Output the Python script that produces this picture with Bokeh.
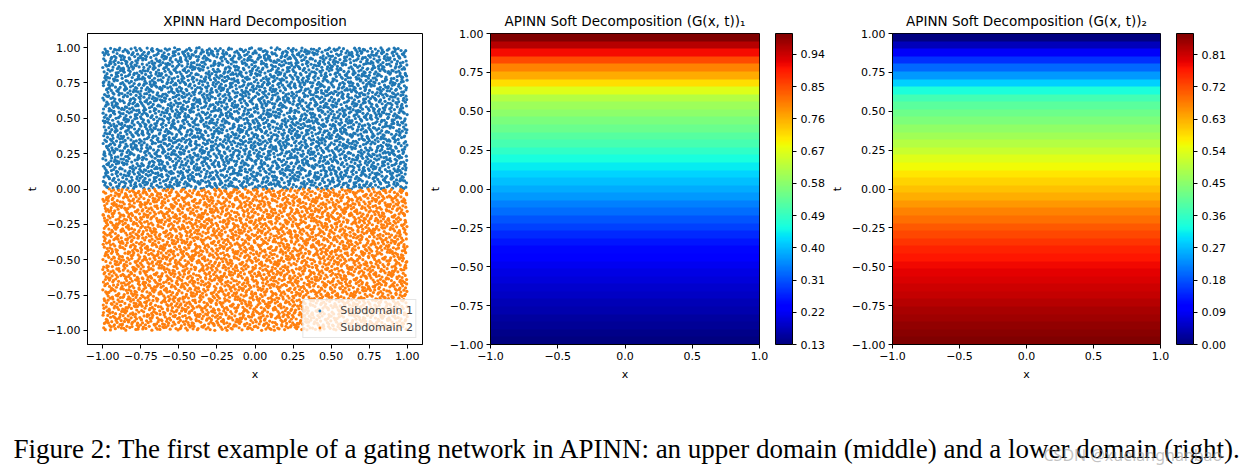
import numpy as np
from bokeh.plotting import figure
from bokeh.models import (LinearColorMapper, ColorBar, FixedTicker, PrintfTickFormatter,
                          Label, Legend, LegendItem, Range1d)
from bokeh.layouts import row, column
from bokeh.embed import file_html
from bokeh.resources import INLINE

# ------------------------------------------------------------------ data
x_domain = [-1.0, 1.0]
t_sub1 = [0.0, 1.0]     # Subdomain 1 (upper)
t_sub2 = [-1.0, 0.0]    # Subdomain 2 (lower)
n_sub1 = 4000
n_sub2 = 4000

t_levels = [-1.00, -0.95, -0.90, -0.85, -0.80, -0.75, -0.70, -0.65, -0.60, -0.55,
            -0.50, -0.45, -0.40, -0.35, -0.30, -0.25, -0.20, -0.15, -0.10, -0.05,
            0.00, 0.05, 0.10, 0.15, 0.20, 0.25, 0.30, 0.35, 0.40, 0.45,
            0.50, 0.55, 0.60, 0.65, 0.70, 0.75, 0.80, 0.85, 0.90, 0.95, 1.00]
g1_values = [0.130, 0.139, 0.147, 0.155, 0.164, 0.174, 0.183, 0.191, 0.199, 0.207,
             0.217, 0.229, 0.243, 0.258, 0.275, 0.293, 0.312, 0.331, 0.350, 0.369,
             0.387, 0.403, 0.421, 0.441, 0.462, 0.485, 0.507, 0.526, 0.544, 0.563,
             0.582, 0.600, 0.625, 0.666, 0.714, 0.762, 0.801, 0.850, 0.908, 0.955, 0.998]
g2_values = [0.869, 0.862, 0.853, 0.845, 0.836, 0.826, 0.817, 0.809, 0.800, 0.792,
             0.782, 0.770, 0.757, 0.742, 0.725, 0.707, 0.688, 0.669, 0.650, 0.631,
             0.613, 0.597, 0.579, 0.559, 0.538, 0.515, 0.493, 0.474, 0.456, 0.437,
             0.418, 0.400, 0.375, 0.334, 0.286, 0.238, 0.199, 0.150, 0.092, 0.045, 0.000]

scatter_ticks = [-1.0, -0.75, -0.5, -0.25, 0.0, 0.25, 0.5, 0.75, 1.0]
scatter_tick_labels = ["\u22121.00", "\u22120.75", "\u22120.50", "\u22120.25", "0.00",
                       "0.25", "0.50", "0.75", "1.00"]
heat_x_ticks = [-1.0, -0.5, 0.0, 0.5, 1.0]
heat_x_labels = ["\u22121.0", "\u22120.5", "0.0", "0.5", "1.0"]
cb1_ticks = [0.13, 0.22, 0.31, 0.40, 0.49, 0.58, 0.67, 0.76, 0.85, 0.94]
cb2_ticks = [0.00, 0.09, 0.18, 0.27, 0.36, 0.45, 0.54, 0.63, 0.72, 0.81]

titles = ["XPINN Hard Decomposition",
          "APINN Soft Decomposition (G(x, t))\u2081",
          "APINN Soft Decomposition (G(x, t))\u2082"]
legend_labels = ["Subdomain 1", "Subdomain 2"]
caption = ("Figure 2: The first example of a gating network in APINN: "
           "an upper domain (middle) and a lower domain (right).")
watermark = "CSDN @xuelanghanbao"

# ------------------------------------------------------------------ helpers
def jet_palette(n=256):
    pos = np.linspace(0, 1, n)
    r = np.interp(pos, [0, 0.35, 0.66, 0.89, 1], [0, 0, 1, 1, 0.5])
    g = np.interp(pos, [0, 0.125, 0.375, 0.64, 0.91, 1], [0, 0, 1, 1, 0, 0])
    b = np.interp(pos, [0, 0.11, 0.34, 0.65, 1], [0.5, 1, 1, 0, 0])
    return ["#%02x%02x%02x" % (int(round(a * 255)), int(round(c * 255)), int(round(d * 255)))
            for a, c, d in zip(r, g, b)]

JET = jet_palette()


def halton(n, base, start):
    out = np.empty(n)
    for i in range(n):
        f, r, k = 1.0, 0.0, i + start
        while k > 0:
            f /= base
            r += f * (k % base)
            k //= base
        out[i] = r
    return out


FONT = "DejaVu Sans"


def style(p, xt, xl, yt, yl):
    p.outline_line_color = "black"
    p.outline_line_width = 1
    p.xgrid.visible = False
    p.ygrid.visible = False
    p.title.text_font = FONT
    p.title.text_font_size = "13.5px"
    p.title.text_font_style = "normal"
    p.title.align = "center"
    p.title.text_color = "black"
    for ax, ticks, labels, name in ((p.xaxis[0], xt, xl, "x"), (p.yaxis[0], yt, yl, "t")):
        ax.ticker = FixedTicker(ticks=ticks)
        ax.major_label_overrides = {float(k): v for k, v in zip(ticks, labels)}
        ax.axis_line_color = "black"
        ax.major_tick_in = 0
        ax.major_tick_out = 4
        ax.major_tick_line_color = "black"
        ax.minor_tick_line_color = None
        ax.major_label_text_font = FONT
        ax.major_label_text_font_size = "11px"
        ax.major_label_text_color = "black"
        ax.major_label_standoff = 3
        ax.axis_label = name
        ax.axis_label_text_font = FONT
        ax.axis_label_text_font_size = "11px"
        ax.axis_label_text_font_style = "normal"
        ax.axis_label_text_color = "black"
        ax.axis_label_standoff = 5


# ------------------------------------------------------------------ panel 1
p1 = figure(frame_width=335, frame_height=311, toolbar_location=None, output_backend="svg",
            x_range=Range1d(-1.1, 1.1), y_range=Range1d(-1.1, 1.1),
            min_border_left=87, min_border_right=3, min_border_top=33, min_border_bottom=46,
            title=titles[0])
style(p1, scatter_ticks, scatter_tick_labels, scatter_ticks, scatter_tick_labels)

x1 = x_domain[0] + (x_domain[1] - x_domain[0]) * halton(n_sub1, 2, 1)
y1 = t_sub1[0] + (t_sub1[1] - t_sub1[0]) * halton(n_sub1, 3, 1)
x2 = x_domain[0] + (x_domain[1] - x_domain[0]) * halton(n_sub2, 2, n_sub1 + 1)
y2 = t_sub2[0] + (t_sub2[1] - t_sub2[0]) * halton(n_sub2, 3, n_sub1 + 1)

r1 = p1.scatter(x1, y1, size=3.2, fill_color="#1f77b4", line_color=None)
r2 = p1.scatter(x2, y2, size=3.2, fill_color="#ff7f0e", line_color=None)
leg = Legend(items=[LegendItem(label=legend_labels[0], renderers=[r1]),
                    LegendItem(label=legend_labels[1], renderers=[r2])],
             location="bottom_right", margin=6, padding=2, spacing=1,
             glyph_width=28, glyph_height=7, label_height=16, label_standoff=7,
             label_text_font=FONT, label_text_font_size="11px",
             border_line_color="#cccccc", border_line_width=1,
             background_fill_color="white", background_fill_alpha=0.8)
p1.add_layout(leg)

# ------------------------------------------------------------------ heat panels
def heat_panel(title, values, cb_ticks, fw, left, right):
    p = figure(frame_width=fw, frame_height=311, toolbar_location=None, output_backend="svg",
               x_range=Range1d(-1, 1), y_range=Range1d(-1, 1),
               min_border_left=left, min_border_right=right, min_border_top=33,
               min_border_bottom=46, title=title)
    style(p, heat_x_ticks, heat_x_labels, scatter_ticks, scatter_tick_labels)
    mapper = LinearColorMapper(palette=JET, low=min(values), high=max(values))
    arr = np.array(values).reshape(-1, 1).repeat(2, axis=1)
    p.image(image=[arr], x=-1, y=-1, dw=2, dh=2, color_mapper=mapper)
    cb = ColorBar(color_mapper=mapper, ticker=FixedTicker(ticks=cb_ticks),
                  formatter=PrintfTickFormatter(format="%.2f"),
                  width=17, padding=0, margin=0, location=(16, 0),
                  major_tick_in=0, major_tick_out=4, major_tick_line_color="black",
                  minor_tick_line_color=None,
                  bar_line_color="black", bar_line_width=1,
                  major_label_text_font=FONT, major_label_text_font_size="11px",
                  major_label_text_color="black", label_standoff=4,
                  background_fill_alpha=0, border_line_color=None)
    p.add_layout(cb, "right")
    return p


p2 = heat_panel(titles[1], g1_values, cb1_ticks, 269, 63, 67)
p3 = heat_panel(titles[2], g2_values, cb2_ticks, 268, 63, 97)

# ------------------------------------------------------------------ caption
pc = figure(width=1252, height=77, toolbar_location=None, output_backend="svg",
            x_range=Range1d(0, 1), y_range=Range1d(0, 1),
            x_axis_location=None, y_axis_location=None, min_border=0)
pc.outline_line_color = None
pc.xgrid.visible = False
pc.ygrid.visible = False
pc.add_layout(Label(x=13, y=19, x_units="screen", y_units="screen", text=caption,
                    text_font="Liberation Serif", text_font_size="27px",
                    text_color="black", text_baseline="alphabetic"))
pc.add_layout(Label(x=1043, y=13, x_units="screen", y_units="screen", text=watermark,
                    text_font="Noto Sans", text_font_size="16px",
                    text_color="#9a9a9a", text_alpha=0.6, text_baseline="alphabetic"))

layout = column(row(p1, p2, p3, spacing=0), pc, spacing=0)
open("out.html", "w").write(file_html(layout, INLINE))
